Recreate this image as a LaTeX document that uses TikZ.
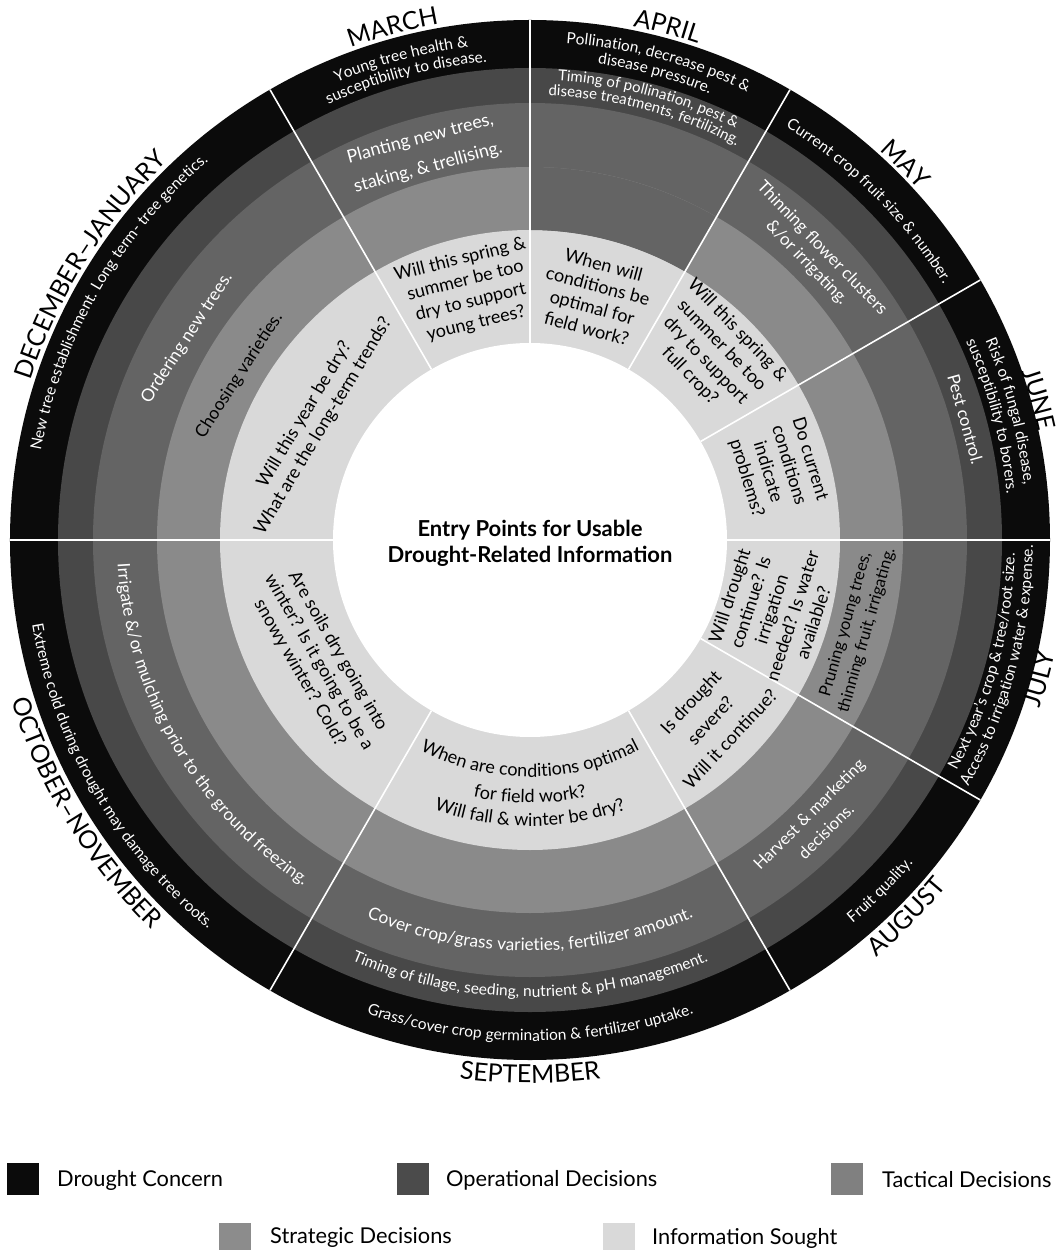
\documentclass[tikz,border=0pt]{standalone}
\usepackage{fontspec}
\setmainfont{Lato}
\usetikzlibrary{decorations.text}
\definecolor{cdr}{HTML}{0B0B0B}
\definecolor{cop}{HTML}{484848}
\definecolor{ctac}{HTML}{646464}
\definecolor{cstr}{HTML}{8A8A8A}
\definecolor{cinf}{HTML}{D9D9D9}
\definecolor{legop}{HTML}{4B4B4B}
\definecolor{legtac}{HTML}{808080}
\definecolor{legstr}{HTML}{8C8C8C}
\newcommand\mfont{\fontsize{25}{28}\selectfont}
\newcommand\bkfont{\fontsize{15.5}{18}\selectfont\color{white}}
\newcommand\opfont{\fontsize{15.5}{17}\selectfont\color{white}}
\newcommand\apfont{\fontsize{15}{16}\selectfont\color{white}}
\newcommand\tcfont{\fontsize{17.2}{20}\selectfont\color{white}}
\newcommand\infont{\fontsize{18}{22}\selectfont}
\newcommand\legfont{\fontsize{21.8}{25}\selectfont}
\newcommand\cwtext[5]{\path[decorate,decoration={text along path,text align=center,text={|#4|#5}}] ({#2+#3}:#1pt) arc[start angle={#2+#3},end angle={#2-#3},radius=#1pt];}
\newcommand\ccwtext[5]{\path[decorate,decoration={text along path,text align=center,text={|#4|#5}}] ({#2-#3}:#1pt) arc[start angle={#2-#3},end angle={#2+#3},radius=#1pt];}
\begin{document}
\begin{tikzpicture}[x=1pt,y=1pt,
  divider/.style={white,line width=1.6pt},
  lbl/.style={align=center,inner sep=0pt},
  wl/.style={lbl,text=white},
  bl/.style={lbl,text=black},
  legsq/.style={minimum size=32pt,inner sep=0pt,draw=none},
  legtxt/.style={anchor=west,inner sep=0pt,font=\legfont}]
\useasboundingbox (-530,-710) rectangle (528,540);
\fill[white] (-530,-710) rectangle (528,540);
% rings
\fill[cdr] (0,0) circle[radius=520pt];
\fill[cop] (0,0) circle[radius=472pt];
\fill[ctac] (0,0) circle[radius=437pt];
\fill[cstr] (0,0) circle[radius=373pt];
\fill[cinf] (0,0) circle[radius=310pt];
\fill[ctac] (60:310pt) arc[start angle=60,end angle=90,radius=310pt] -- (90:373pt) arc[start angle=90,end angle=60,radius=373pt] -- cycle;
\fill[white] (0,0) circle[radius=197pt];
\foreach \a in {0,30,60,90,120,180,240,300,330} \draw[divider] (\a:197pt) -- (\a:520pt);
% month labels
\cwtext{524}{148}{40}{\mfont}{DECEMBER–JANUARY}
\cwtext{524}{105}{25}{\mfont}{MARCH}
\cwtext{524}{75}{25}{\mfont}{APRIL}
\cwtext{523}{45}{25}{\mfont}{MAY}
\cwtext{520}{15.5}{25}{\mfont}{JUNE}
\ccwtext{537}{-15.2}{25}{\mfont}{JULY}
\ccwtext{542}{-45}{25}{\mfont}{AUGUST}
\ccwtext{543}{-90}{30}{\mfont}{SEPTEMBER}
\ccwtext{543}{211.5}{40}{\mfont}{OCTOBER–NOVEMBER}
% drought concern ring
\cwtext{497}{150}{40}{\bkfont}{New tree establishment. Long term- tree genetics.}
\cwtext{497}{105}{25}{\bkfont}{Young tree health {\&}}
\cwtext{480}{105}{25}{\bkfont}{susceptibility to disease.}
\cwtext{498}{75}{25}{\bkfont}{Pollination, decrease pest {\&}}
\cwtext{481}{75}{25}{\bkfont}{disease pressure.}
\cwtext{486}{45}{30}{\bkfont}{Current crop fruit size {\&} number.}
\cwtext{497}{15}{25}{\bkfont}{Risk of fungal disease,}
\cwtext{479}{15}{25}{\bkfont}{susceptibility to borers.}
\ccwtext{485}{-15}{25}{\bkfont}{Next year’s crop {\&} tree/root size.}
\ccwtext{503}{-15}{25}{\bkfont}{Access to irrigation water {\&} expense.}
\ccwtext{501}{-45}{20}{\bkfont}{Fruit quality.}
\ccwtext{501}{-90}{35}{\bkfont}{Grass/cover crop germination {\&} fertilizer uptake.}
\ccwtext{505}{210}{40}{\bkfont}{Extreme cold during drought may damage tree roots.}
% operational ring
\cwtext{460}{75}{25}{\apfont}{Timing of pollination, pest {\&}}
\cwtext{445}{75}{25}{\apfont}{disease treatments, fertilizing.}
\node[wl,font=\fontsize{17}{20}\selectfont,rotate=-74.5] (pest) at (15.5:452pt) {Pest control.};
\ccwtext{457}{-90}{35}{\opfont}{Timing of tillage, seeding, nutrient {\&} pH management.}
% tactical ring
\ccwtext{411}{-90}{35}{\tcfont}{Cover crop/grass varieties, fertilizer amount.}
\ccwtext{413}{210}{40}{\tcfont}{Irrigate {\&}/or mulching prior to the ground freezing.}
\node[wl,font=\fontsize{17.5}{20}\selectfont,rotate=57] (order) at (149.5:398pt) {Ordering new trees.};
\node[wl,font=\fontsize{18}{30}\selectfont,rotate=15] (plant) at (105.3:401pt) {Planting new trees,\\staking, \& trellising.};
\node[wl,font=\fontsize{17}{21}\selectfont,rotate=-46] (thin) at (45:402pt) {Thinning flower clusters\\\&/or irrigating.};
\node[wl,font=\fontsize{16.5}{24}\selectfont,rotate=45] (harv) at (-44.5:403pt) {Harvest \& marketing\\decisions.};
% strategic ring
\node[bl,font=\fontsize{17.5}{20}\selectfont,rotate=57] (choose) at (150.5:334pt) {Choosing varieties.};
\node[bl,font=\fontsize{16.5}{22}\selectfont,rotate=74] (prune) at (-15:338pt) {Pruning young trees,\\thinning fruit, irrigating.};
% information ring
\node[bl,font=\infont,rotate=59] (q1) at (151:247pt) {Will this year be dry?\\What are the long-term trends?};
\node[bl,font=\infont,rotate=14] (q2) at (104:256pt) {Will this spring \&\\summer be too\\dry to support\\young trees?};
\node[bl,font=\infont,rotate=-15] (q3) at (75:252pt) {When will\\conditions be\\optimal for\\field work?};
\node[bl,font=\infont,rotate=-46] (q4) at (45.5:262pt) {Will this spring \&\\summer be too\\dry to support\\full crop?};
\node[bl,font=\infont,rotate=-73] (q5) at (16:258pt) {Do current\\conditions\\indicate\\problems?};
\node[bl,font=\infont,rotate=72] (q6) at (-16:251pt) {Will drought\\continue? Is\\irrigation\\needed? Is water\\available?};
\node[bl,font=\fontsize{18}{27}\selectfont,rotate=47] (q7) at (-45:255pt) {Is drought\\severe?\\Will it continue?};
\ccwtext{237}{-90}{35}{\infont}{When are conditions optimal}
\ccwtext{263}{-90}{30}{\infont}{for field work?}
\ccwtext{286}{-90}{30}{\infont}{Will fall {\&} winter be dry?}
\node[bl,font=\infont,rotate=-60] (q9) at (210:244pt) {Are soils dry going into\\winter? Is it going to be a\\snowy winter? Cold?};
% title
\node[lbl,font=\bfseries\fontsize{22}{26}\selectfont] (title) at (0,-3) {Entry Points for Usable\\Drought-Related Information};
% legend
\node[legsq,fill=cdr] (s1) at (-506.5,-639) {};
\node[legtxt] (t1) at (-473,-640) {Drought Concern};
\node[legsq,fill=legop] (s2) at (-117,-639) {};
\node[legtxt] (t2) at (-84,-640) {Operational Decisions};
\node[legsq,fill=legtac] (s3) at (317,-639) {};
\node[legtxt] (t3) at (352,-640) {Tactical Decisions};
\node[legsq,fill=legstr] (s4) at (-294.5,-699) {};
\node[legtxt] (t4) at (-260,-698) {Strategic Decisions};
\node[legsq,fill=cinf] (s5) at (89,-699) {};
\node[legtxt] (t5) at (122,-698) {Information Sought};
\end{tikzpicture}
\end{document}
